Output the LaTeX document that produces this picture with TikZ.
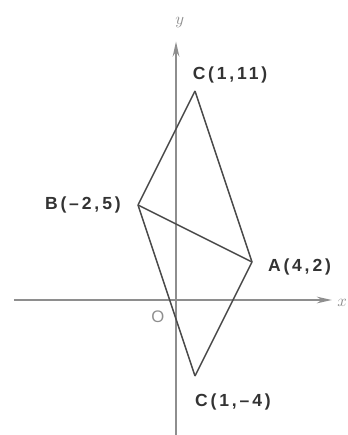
\documentclass[tikz,border=0pt]{standalone}
\usepackage{fontspec}
\setsansfont{Liberation Sans}
\usepackage{xcolor}
\definecolor{axisGray}{HTML}{8E8E8E}
\definecolor{edgeGray}{HTML}{4A4A4A}
\definecolor{labelGray}{HTML}{333333}
\usetikzlibrary{arrows.meta}
\tikzset{
    % axes of the plane
    axis/.style={
        draw=axisGray,
        line width=1pt,
        -{Stealth[length=9pt, width=4pt]},
    },
    % sides of the figure
    side/.style={
        draw=edgeGray,
        line width=0.9pt,
        line join=round,
    },
    % vertex labels
    vertex label/.style={
        font=\sffamily\bfseries\addfontfeature{LetterSpace=16}\fontsize{10.5}{12}\selectfont,
        text=labelGray,
        inner sep=0pt,
    },
    % axis letters
    axis label/.style={
        font=\itshape\normalsize,
        text=axisGray,
        inner sep=0pt,
    },
}

\begin{document}
\begin{tikzpicture}[x=0.4cm, y=0.4cm]
    \useasboundingbox (-9.263,-7.105) rectangle (9.0,15.789);

    % axes
    \coordinate (x_start) at (-8.53,0);
    \coordinate (x_end) at (8.2,0);
    \coordinate (y_start) at (0,-7.2);
    \coordinate (y_end) at (0,13.6);
    \draw [axis] (x_start) -- (x_end);
    \draw [axis] (y_start) -- (y_end);
    \node (lbl_x) [axis label] at (8.75,-0.15) {$x$};
    \node (lbl_y) [axis label] at (0.2,14.6) {$y$};
    \node (lbl_o) [axis label, font=\sffamily\normalsize] at (-0.95,-0.9) {O};

    % vertices
    \coordinate (pt_a) at (4,2);
    \coordinate (pt_b) at (-2,5);
    \coordinate (pt_c_top) at (1,11);
    \coordinate (pt_c_bot) at (1,-4);

    \draw [side] (pt_c_top) -- (pt_b);
    \draw [side] (pt_c_top) -- (pt_a);
    \draw [side] (pt_b) -- (pt_a);
    \draw [side] (pt_b) -- (pt_c_bot);
    \draw [side] (pt_a) -- (pt_c_bot);

    \node (lbl_c_top) [vertex label] at (2.84,11.85) {C(1,\,11)};
    \node (lbl_b) [vertex label] at (-4.9,5.0) {B(--\,2,\,5)};
    \node (lbl_a) [vertex label] at (6.5,1.75) {A(4,\,2)};
    \node (lbl_c_bot) [vertex label] at (3.0,-5.37) {C(1,\,--\,4)};
\end{tikzpicture}
\end{document}
